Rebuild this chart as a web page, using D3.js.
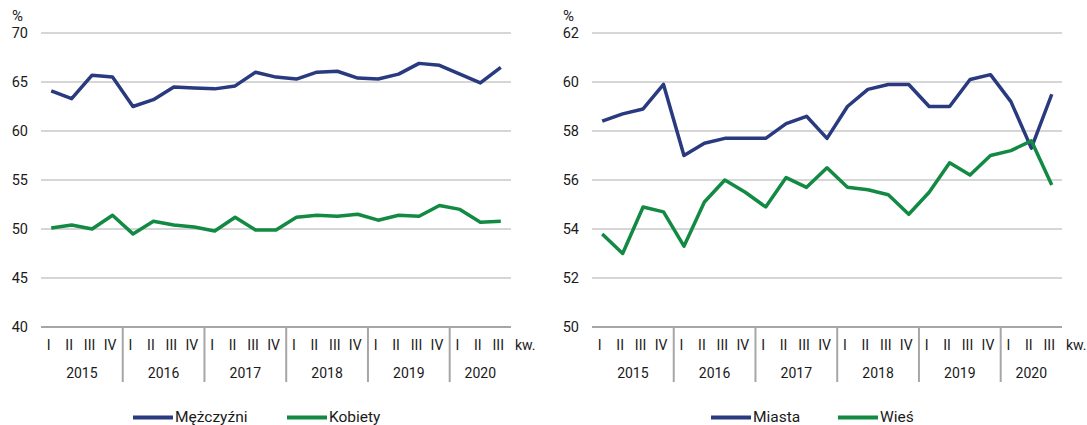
<!DOCTYPE html>
<html>
<head>
<meta charset="utf-8">
<script src="https://cdn.jsdelivr.net/npm/d3@7"></script>
<style>
  body { margin: 0; background: #fff; }
  svg { display: block; font-family: Roboto, "Noto Sans", sans-serif; }
  .grid line { stroke: #c8c8c8; stroke-width: 1.5; }
  .lbl { fill: #1a1a1a; }
</style>
</head>
<body>
<svg id="chart" width="1087" height="425"></svg>
<script>
// quarter / year labels
var quarters = ["I", "II", "III", "IV"];
var years = ["2015", "2016", "2017", "2018", "2019", "2020"];
var nPeriods = 23; // 2015 I .. 2020 III

// left panel: by sex
var men = [64.1, 63.3, 65.7, 65.5, 62.5, 63.2, 64.5, 64.4, 64.3, 64.6, 66.0, 65.5,
  65.3, 66.0, 66.1, 65.4, 65.3, 65.8, 66.9, 66.7, 65.8, 64.9, 66.5];
var women = [50.1, 50.4, 50.0, 51.4, 49.5, 50.8, 50.4, 50.2, 49.8, 51.2, 49.9, 49.9,
  51.2, 51.4, 51.3, 51.5, 50.9, 51.4, 51.3, 52.4, 52.0, 50.7, 50.8];
var leftTicks = [40, 45, 50, 55, 60, 65, 70];

// right panel: by place of residence
var cities = [58.4, 58.7, 58.9, 59.9, 57.0, 57.5, 57.7, 57.7, 57.7, 58.3, 58.6, 57.7,
  59.0, 59.7, 59.9, 59.9, 59.0, 59.0, 60.1, 60.3, 59.2, 57.3, 59.5];
var rural = [53.8, 53.0, 54.9, 54.7, 53.3, 55.1, 56.0, 55.5, 54.9, 56.1, 55.7, 56.5,
  55.7, 55.6, 55.4, 54.6, 55.5, 56.7, 56.2, 57.0, 57.2, 57.6, 55.8];
var rightTicks = [50, 52, 54, 56, 58, 60, 62];

var navy = "#293a7e";
var green = "#138a43";

var svg = d3.select("#chart");

function drawPanel(cfg) {
  var g = svg.append("g");
  var idx = d3.range(nPeriods);

  var x = d3.scaleBand().domain(idx).range([cfg.x0, cfg.x1]).paddingInner(0).paddingOuter(0);
  var y = d3.scaleLinear().domain(cfg.domain).range([327, 33]);

  // horizontal gridlines
  g.append("g").attr("class", "grid")
    .selectAll("line")
    .data(cfg.ticks.slice(1))
    .join("line")
    .attr("x1", cfg.x0).attr("x2", cfg.x1)
    .attr("y1", d => y(d)).attr("y2", d => y(d));

  // y tick labels
  g.selectAll("text.ytick")
    .data(cfg.ticks)
    .join("text")
    .attr("class", "ytick lbl")
    .attr("x", cfg.x0 - 13)
    .attr("y", d => y(d))
    .attr("dy", "0.35em")
    .attr("text-anchor", "end")
    .style("font-size", "14.5px")
    .text(d => d);

  g.append("text").attr("class", "lbl")
    .attr("x", cfg.x0 - 29).attr("y", 21)
    .style("font-size", "15px")
    .text("%");

  // x axis baseline
  g.append("line")
    .attr("x1", cfg.x0).attr("x2", cfg.x1)
    .attr("y1", y(cfg.domain[0])).attr("y2", y(cfg.domain[0]))
    .attr("stroke", "#a6a6a6").attr("stroke-width", 2);

  // year separators
  g.selectAll("line.sep")
    .data([4, 8, 12, 16, 20])
    .join("line")
    .attr("class", "sep")
    .attr("x1", d => x(d)).attr("x2", d => x(d))
    .attr("y1", 327).attr("y2", 382)
    .attr("stroke", "#a6a6a6").attr("stroke-width", 2);

  // quarter labels
  g.selectAll("text.q")
    .data(idx)
    .join("text")
    .attr("class", "q lbl")
    .attr("x", d => x(d) + x.bandwidth() / 2 - 2.5)
    .attr("y", 350)
    .attr("text-anchor", "middle")
    .style("font-size", "14px")
    .text(d => quarters[d % 4]);

  g.append("text").attr("class", "lbl")
    .attr("x", cfg.x1 + 4).attr("y", 350)
    .style("font-size", "14px")
    .text("kw.");

  // year labels
  g.selectAll("text.yr")
    .data(years)
    .join("text")
    .attr("class", "yr lbl")
    .attr("x", (d, i) => {
      var a = x(i * 4), b = i * 4 + 4 >= nPeriods ? cfg.x1 : x(i * 4 + 4);
      return (a + b) / 2;
    })
    .attr("y", 378)
    .attr("text-anchor", "middle")
    .style("font-size", "14px")
    .text(d => d);

  // lines
  var line = d3.line()
    .x((d, i) => x(i) + x.bandwidth() / 2)
    .y(d => y(d));

  cfg.series.forEach(function (s) {
    g.append("path")
      .datum(s.values)
      .attr("fill", "none")
      .attr("stroke", s.color)
      .attr("stroke-width", 3.5)
      .attr("stroke-linejoin", "round")
      .attr("d", line);
  });

  // legend
  cfg.series.forEach(function (s) {
    g.append("line")
      .attr("x1", s.lx).attr("x2", s.lx + 40)
      .attr("y1", 417.5).attr("y2", 417.5)
      .attr("stroke", s.color).attr("stroke-width", 4);
    g.append("text").attr("class", "lbl")
      .attr("x", s.lx + 42).attr("y", 421.5)
      .style("font-size", "15.5px")
      .text(s.name);
  });
}

drawPanel({
  x0: 41, x1: 511,
  domain: [40, 70],
  ticks: leftTicks,
  series: [
    { name: "Mężczyźni", values: men, color: navy, lx: 133 },
    { name: "Kobiety", values: women, color: green, lx: 287 }
  ]
});

drawPanel({
  x0: 592, x1: 1062,
  domain: [50, 62],
  ticks: rightTicks,
  series: [
    { name: "Miasta", values: cities, color: navy, lx: 711 },
    { name: "Wieś", values: rural, color: green, lx: 838 }
  ]
});
</script>
</body>
</html>
